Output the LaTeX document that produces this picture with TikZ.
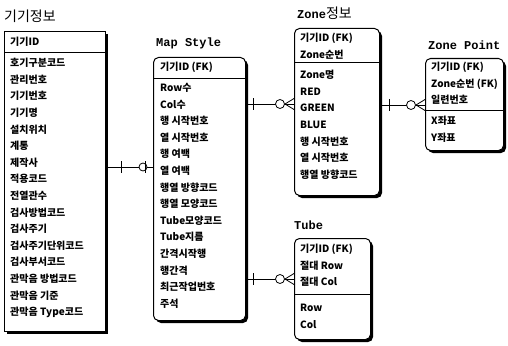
\documentclass[tikz,border=0pt]{standalone}
\usepackage{fontspec}
\setmainfont{Noto Sans CJK KR}
\newfontfamily\ttlfont{Liberation Mono}
\usetikzlibrary{shadows,calc}

\newcommand{\lsp}{16.6}   % line pitch of the attribute lists
\newcommand{\onebar}[1]{\draw[rel] (#1) ++(0,-6) -- ++(0,12);}
\newcommand{\zeromany}[1]{%
  \draw[rel] (#1) ++(-9,0) -- ++(9,-5.5) (#1) ++(-9,0) -- ++(9,5.5);
  \draw[rel,fill=white] (#1) ++(-14,0) circle (4.5);}
\newcommand{\zeroone}[1]{%
  \draw[rel,fill=white] (#1) ++(-10,0) circle (4);
  \draw[rel] (#1) ++(-8,-6) -- ++(0,12);}

\tikzset{
  entity/.style={draw, line width=1pt, fill=white, inner sep=0pt, anchor=north west,
    drop shadow={shadow xshift=2.5pt, shadow yshift=-2.5pt, fill=black, opacity=1}},
  depent/.style={entity, rounded corners=5pt},
  attr/.style={anchor=north west, inner sep=0pt, align=left,
    font=\bfseries\fontsize{10}{\lsp}\selectfont},
  keyln/.style={attr, anchor=west},
  ttl/.style={anchor=west, inner sep=0pt, font=\fontsize{14}{14}\selectfont},
  ttlmono/.style={ttl, font=\ttlfont\bfseries\fontsize{12}{12}\selectfont},
  rel/.style={line width=0.8pt},
  sep/.style={line width=1pt},
}

\begin{document}
\begin{tikzpicture}[x=1pt,y=-1pt]
  \useasboundingbox (0,0) rectangle (508,345);
%
  % entity boxes
  \node[entity, minimum width=101pt, minimum height=300pt] (ginfo) at (4,31) {};
  \node[depent, minimum width=92pt, minimum height=263pt] (mapst) at (153,57) {};
  \node[depent, minimum width=85pt, minimum height=167pt] (zone) at (294,28) {};
  \node[depent, minimum width=78pt, minimum height=92pt] (zpt) at (425,58) {};
  \node[depent, minimum width=76pt, minimum height=101pt] (tube) at (294,238) {};
%
  \draw[sep] (ginfo.west |- 0,53) -- (ginfo.east |- 0,53);
  \draw[sep] (mapst.west |- 0,78) -- (mapst.east |- 0,78);
  \draw[sep] (zone.west |- 0,62) -- (zone.east |- 0,62);
  \draw[sep] (zpt.west |- 0,110) -- (zpt.east |- 0,110);
  \draw[sep] (tube.west |- 0,294) -- (tube.east |- 0,294);
%
  % 기기정보
  \node[ttl] (ginfo-t) at (4,16) {기기정보};
  \node[keyln] (ginfo-k) at (10,42) {기기ID};
  \node[attr] (ginfo-a) at (10,58) {호기구분코드\\관리번호\\기기번호\\기기명\\설치위치\\계통\\제작사\\적용코드\\
    전열관수\\검사방법코드\\검사주기\\검사주기단위코드\\검사부서코드\\관막음 방법코드\\관막음 기준\\관막음 Type코드};
%
  % Map Style
  \node[ttlmono] (mapst-t) at (156,43) {Map Style};
  \node[keyln] (mapst-k) at (160,67) {기기ID (FK)};
  \node[attr] (mapst-a) at (160,83) {Row수\\Col수\\행 시작번호\\열 시작번호\\행 여백\\열 여백\\행열 방향코드\\
    행열 모양코드\\Tube모양코드\\Tube지름\\간격시작행\\행간격\\최근작업번호\\주석};
%
  % Zone정보
  \node[ttl] (zone-t) at (297,13) {{\ttlfont\bfseries\fontsize{12}{12}\selectfont Zone}정보};
  \node[attr] (zone-k) at (300,33) {기기ID (FK)\\Zone순번};
  \node[attr] (zone-a) at (300,70) {Zone명\\RED\\GREEN\\BLUE\\행 시작번호\\열 시작번호\\행열 방향코드};
%
  % Zone Point
  \node[ttlmono] (zpt-t) at (428,45) {Zone Point};
  \node[attr] (zpt-k) at (431,62) {기기ID (FK)\\Zone순번 (FK)\\일련번호};
  \node[attr] (zpt-a) at (431,116) {X좌표\\Y좌표};
%
  % Tube
  \node[ttlmono] (tube-t) at (294,225) {Tube};
  \node[attr] (tube-k) at (300,244) {기기ID (FK)\\절대 Row\\절대 Col};
  \node[attr] (tube-a) at (300,304) {Row\\Col};
%
  % relationships
  \coordinate (c1) at (0,167);
  \coordinate (c2) at (0,104);
  \coordinate (c3) at (0,105);
  \coordinate (c4) at (0,279);
  \draw[rel] (ginfo.east |- c1) -- (mapst.west |- c1);
  \draw[rel] (mapst.east |- c2) -- (zone.west |- c2);
  \draw[rel] (zone.east |- c3) -- (zpt.west |- c3);
  \draw[rel] (mapst.east |- c4) -- (tube.west |- c4);
%
  \onebar{$(ginfo.east |- c1)+(15,0)$}
  \zeroone{mapst.west |- c1}
  \onebar{$(mapst.east |- c2)+(7,0)$}
  \zeromany{zone.west |- c2}
  \onebar{$(zone.east |- c3)+(9,0)$}
  \zeromany{zpt.west |- c3}
  \onebar{$(mapst.east |- c4)+(7,0)$}
  \zeromany{tube.west |- c4}
\end{tikzpicture}
\end{document}
